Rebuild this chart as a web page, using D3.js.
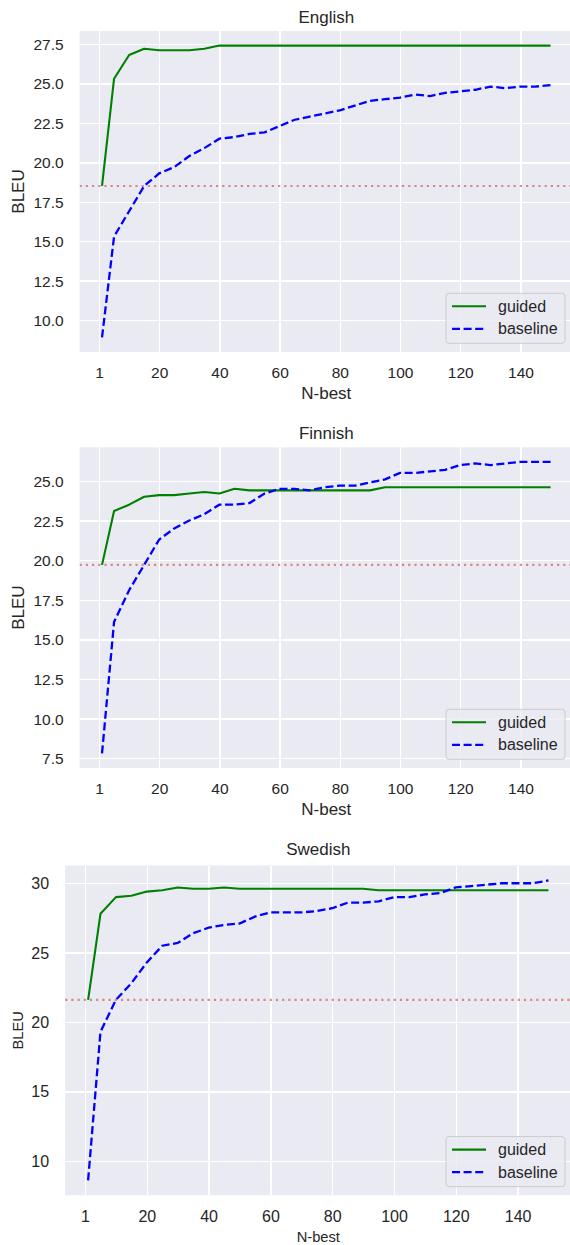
<!doctype html>
<html lang="en">
<head>
  <meta charset="utf-8">
  <title>N-best BLEU</title>
<style>
 body{ margin:0; background:#fff; }
 svg text{ font-family: "Liberation Sans", Arial, sans-serif; fill:#262626; }
 .grid line{ stroke:#fff; stroke-width:1.4; shape-rendering:crispEdges; }
 .grid path{ display:none; }
</style>
</head>
<body>
<div id="chart"></div>
<script src="https://d3js.org/d3.v7.min.js"></script>
<script>

var nbest = [1, 5, 10, 15, 20, 25, 30, 35, 40, 45, 50, 55, 60, 65, 70, 75, 80,
             85, 90, 95, 100, 105, 110, 115, 120, 125, 130, 135, 140, 145, 150];

var englishGuided = [18.5, 25.3, 26.8, 27.2, 27.1, 27.1, 27.1, 27.2, 27.4, 27.4, 27.4,
                     27.4, 27.4, 27.4, 27.4, 27.4, 27.4, 27.4, 27.4, 27.4, 27.4, 27.4,
                     27.4, 27.4, 27.4, 27.4, 27.4, 27.4, 27.4, 27.4, 27.4];
var englishBaseline = [8.9, 15.3, 16.9, 18.5, 19.3, 19.7, 20.4, 20.9, 21.5, 21.6, 21.8,
                       21.9, 22.3, 22.7, 22.9, 23.1, 23.3, 23.6, 23.9, 24.0, 24.1, 24.3,
                       24.2, 24.4, 24.5, 24.6, 24.8, 24.7, 24.8, 24.8, 24.9];
var englishRef = 18.5;

var finnishGuided = [19.7, 23.1, 23.5, 24.0, 24.1, 24.1, 24.2, 24.3, 24.2, 24.5, 24.4,
                     24.4, 24.4, 24.4, 24.4, 24.4, 24.4, 24.4, 24.4, 24.6, 24.6, 24.6,
                     24.6, 24.6, 24.6, 24.6, 24.6, 24.6, 24.6, 24.6, 24.6];
var finnishBaseline = [7.8, 16.1, 18.1, 19.7, 21.3, 22.0, 22.5, 22.9, 23.5, 23.5, 23.6,
                       24.2, 24.5, 24.5, 24.4, 24.6, 24.7, 24.7, 24.9, 25.1, 25.5, 25.5,
                       25.6, 25.7, 26.0, 26.1, 26.0, 26.1, 26.2, 26.2, 26.2];
var finnishRef = 19.7;

var swedishGuided = [21.6, 27.8, 29.0, 29.1, 29.4, 29.5, 29.7, 29.6, 29.6, 29.7, 29.6,
                     29.6, 29.6, 29.6, 29.6, 29.6, 29.6, 29.6, 29.6, 29.5, 29.5, 29.5,
                     29.5, 29.5, 29.5, 29.5, 29.5, 29.5, 29.5, 29.5, 29.5];
var swedishBaseline = [8.6, 19.3, 21.6, 22.8, 24.3, 25.5, 25.7, 26.4, 26.8, 27.0, 27.1,
                       27.6, 27.9, 27.9, 27.9, 28.0, 28.2, 28.6, 28.6, 28.7, 29.0, 29.0,
                       29.2, 29.3, 29.7, 29.8, 29.9, 30.0, 30.0, 30.0, 30.2];
var swedishRef = 21.6;

var xTicks = [0, 20, 40, 60, 80, 100, 120, 140];
var xTickLabels = ['1', '20', '40', '60', '80', '100', '120', '140'];
var seriesNames = ['guided', 'baseline'];

var svg = d3.select('#chart').append('svg')
  .attr('width', 570).attr('height', 1245);

var panels = [
  { title: 'English', guided: englishGuided, baseline: englishBaseline, ref: englishRef,
    left: 79.6, right: 573, top: 31, bottom: 352, yStep: 2.5, yFmt: '.1f',
    tickSize: 15.5, labelSize: 17, titleY: 17, tickGap: 20, labelGap: 41 },
  { title: 'Finnish', guided: finnishGuided, baseline: finnishBaseline, ref: finnishRef,
    left: 79.6, right: 573, top: 447.3, bottom: 768, yStep: 2.5, yFmt: '.1f',
    tickSize: 15.5, labelSize: 17, titleY: 433, tickGap: 20, labelGap: 41 },
  { title: 'Swedish', guided: swedishGuided, baseline: swedishBaseline, ref: swedishRef,
    left: 65.1, right: 571.5, top: 865.5, bottom: 1195.3, yStep: 5, yFmt: 'd',
    tickSize: 16, labelSize: 14.7, titleY: 849, tickGap: 21.4, labelGap: 41.4 }
];

panels.forEach(function(p){
  var xext = d3.extent(nbest);
  var xpad = (xext[1] - xext[0]) * 0.05;
  var xscale = d3.scaleLinear()
    .domain([xext[0] - xpad, xext[1] + xpad])
    .range([p.left, p.right]);

  var all = p.guided.concat(p.baseline);
  var yext = d3.extent(all);
  var ypad = (yext[1] - yext[0]) * 0.05;
  var yscale = d3.scaleLinear()
    .domain([yext[0] - ypad, yext[1] + ypad])
    .range([p.bottom, p.top]);

  var yTicks = d3.range(Math.ceil(yscale.domain()[0] / p.yStep) * p.yStep,
                        yscale.domain()[1], p.yStep);

  var g = svg.append('g');

  g.append('rect')
    .attr('x', p.left).attr('y', p.top)
    .attr('width', p.right - p.left).attr('height', p.bottom - p.top)
    .attr('fill', '#eaeaf2');

  // grid + tick labels through the axes
  var xaxis = d3.axisBottom(xscale)
    .tickValues(xTicks)
    .tickSize(-(p.bottom - p.top))
    .tickPadding(p.tickGap - p.tickSize * 0.36)
    .tickFormat(function(d, i){ return xTickLabels[i]; });

  var xg = g.append('g').attr('class', 'grid')
    .attr('transform', 'translate(0,' + p.bottom + ')')
    .call(xaxis);
  xg.selectAll('text')
    .attr('dy', null).attr('y', p.tickGap)
    .attr('dominant-baseline', 'central')
    .style('font-size', p.tickSize + 'px');

  var yaxis = d3.axisLeft(yscale)
    .tickValues(yTicks)
    .tickSize(-(p.right - p.left))
    .tickPadding(16)
    .tickFormat(d3.format(p.yFmt));

  var yg = g.append('g').attr('class', 'grid')
    .attr('transform', 'translate(' + p.left + ',0)')
    .call(yaxis);
  yg.selectAll('text')
    .attr('dy', null).attr('x', -16)
    .attr('dominant-baseline', 'central')
    .style('font-size', p.tickSize + 'px');
  xg.selectAll('text, line, path').attr('fill', null);

  var clipId = 'clip-' + p.title;
  g.append('clipPath').attr('id', clipId).append('rect')
    .attr('x', p.left).attr('y', p.top)
    .attr('width', p.right - p.left).attr('height', p.bottom - p.top);

  var plot = g.append('g').attr('clip-path', 'url(#' + clipId + ')');

  plot.append('line')
    .attr('x1', p.left).attr('x2', p.right)
    .attr('y1', yscale(p.ref)).attr('y2', yscale(p.ref))
    .attr('stroke', '#cd5c5c').attr('stroke-opacity', 0.7)
    .attr('stroke-width', 2.2).attr('stroke-dasharray', '2.2,4');

  var line = d3.line()
    .x(function(d, i){ return xscale(nbest[i]); })
    .y(function(d){ return yscale(d); });

  plot.append('path').datum(p.guided)
    .attr('d', line).attr('fill', 'none')
    .attr('stroke', 'green').attr('stroke-width', 2.1)
    .attr('stroke-linejoin', 'round');

  plot.append('path').datum(p.baseline)
    .attr('d', line).attr('fill', 'none')
    .attr('stroke', 'blue').attr('stroke-width', 2.3)
    .attr('stroke-dasharray', '8,3.6');

  // title & labels
  var cx = (p.left + p.right) / 2;
  g.append('text').text(p.title)
    .attr('x', cx).attr('y', p.titleY)
    .attr('text-anchor', 'middle').attr('dominant-baseline', 'central')
    .style('font-size', '17px');

  g.append('text').text('N-best')
    .attr('x', cx).attr('y', p.bottom + p.labelGap)
    .attr('text-anchor', 'middle').attr('dominant-baseline', 'central')
    .style('font-size', p.labelSize + 'px');

  g.append('text').text('BLEU')
    .attr('transform', 'translate(18,' + ((p.top + p.bottom) / 2) + ') rotate(-90)')
    .attr('text-anchor', 'middle').attr('dominant-baseline', 'central')
    .style('font-size', p.labelSize + 'px');

  // legend
  var lw = 119, lh = 50;
  var lx = Math.min(p.right, 570) - lw - 5, ly = p.bottom - lh - 8.7;
  var lg = g.append('g').attr('transform', 'translate(' + lx + ',' + ly + ')');
  lg.append('rect')
    .attr('width', lw).attr('height', lh).attr('rx', 3)
    .attr('fill', '#eaeaf2').attr('fill-opacity', 0.8)
    .attr('stroke', '#cccccc').attr('stroke-width', 1);

  seriesNames.forEach(function(name, i){
    var yy = 13 + i * 22.5;
    lg.append('line')
      .attr('x1', 6).attr('x2', 40).attr('y1', yy).attr('y2', yy)
      .attr('stroke', i === 0 ? 'green' : 'blue')
      .attr('stroke-width', i === 0 ? 2.1 : 2.3)
      .attr('stroke-dasharray', i === 0 ? null : '8,3.6');
    lg.append('text').text(name)
      .attr('x', 52).attr('y', yy)
      .attr('dominant-baseline', 'central')
      .style('font-size', '16px');
  });
});

</script>
</body>
</html>
